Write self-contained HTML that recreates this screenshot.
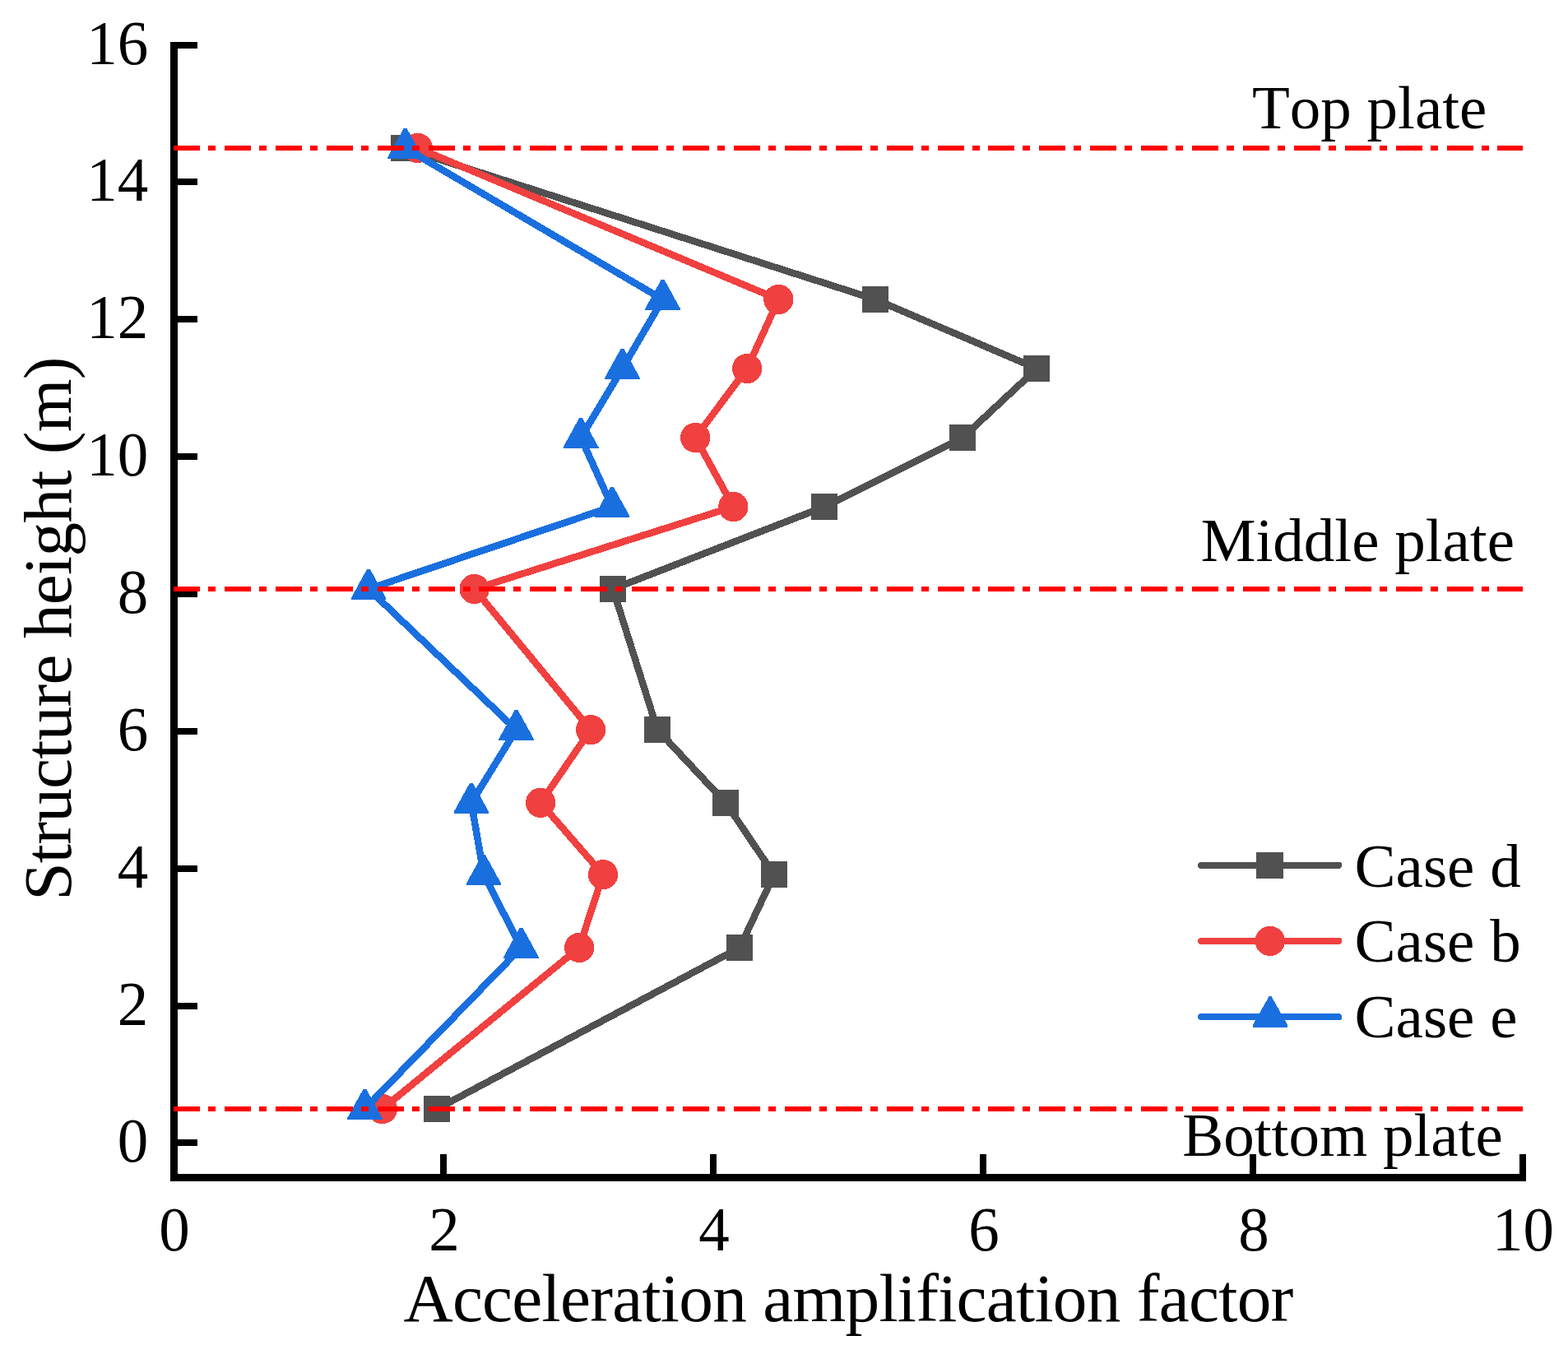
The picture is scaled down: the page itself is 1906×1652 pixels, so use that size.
<!DOCTYPE html>
<html lang="en"><head><meta charset="utf-8"><title>Acceleration amplification factor vs structure height</title>
<style>html,body{margin:0;padding:0;background:#fff;}body{width:1906px;height:1652px;overflow:hidden;}svg{display:block;}text{font-family:"Liberation Serif",serif;fill:#000;font-kerning:none;}.t{font-size:75px;}.a{font-size:83.33px;letter-spacing:-0.75px;}</style></head><body>
<svg width="1906" height="1652" viewBox="0 0 1906 1652">
<rect width="1906" height="1652" fill="#fff"/>
<g shape-rendering="crispEdges">
<polyline points="531.2,1348 899.1,1152 941,1063.1 882,975.8 799.1,887.1 745.1,716 1002.1,616 1170.2,532 1260.4,448 1064,364 491.1,180" fill="none" stroke="#515151" stroke-width="8.5" stroke-linejoin="round" stroke-linecap="round"/>
<rect x="515" y="1332" width="32" height="32" fill="#515151"/>
<rect x="883" y="1136" width="32" height="32" fill="#515151"/>
<rect x="925" y="1047" width="32" height="32" fill="#515151"/>
<rect x="866" y="960" width="32" height="32" fill="#515151"/>
<rect x="783" y="871" width="32" height="32" fill="#515151"/>
<rect x="729" y="700" width="32" height="32" fill="#515151"/>
<rect x="986" y="600" width="32" height="32" fill="#515151"/>
<rect x="1154" y="516" width="32" height="32" fill="#515151"/>
<rect x="1244" y="432" width="32" height="32" fill="#515151"/>
<rect x="1048" y="348" width="32" height="32" fill="#515151"/>
<rect x="475" y="164" width="32" height="32" fill="#515151"/>
<polyline points="464.8,1348 704.05,1152 733,1063.1 657.1,975.8 718.05,887.1 576.7,716 891.4,616 845.3,532 908.1,448 946.4,364 507.9,180" fill="none" stroke="#F14040" stroke-width="8.5" stroke-linejoin="round" stroke-linecap="round"/>
<circle cx="464.8" cy="1348" r="18.15" fill="#F14040"/>
<circle cx="704.05" cy="1152" r="18.15" fill="#F14040"/>
<circle cx="733" cy="1063.1" r="18.15" fill="#F14040"/>
<circle cx="657.1" cy="975.8" r="18.15" fill="#F14040"/>
<circle cx="718.05" cy="887.1" r="18.15" fill="#F14040"/>
<circle cx="576.7" cy="716" r="18.15" fill="#F14040"/>
<circle cx="891.4" cy="616" r="18.15" fill="#F14040"/>
<circle cx="845.3" cy="532" r="18.15" fill="#F14040"/>
<circle cx="908.1" cy="448" r="18.15" fill="#F14040"/>
<circle cx="946.4" cy="364" r="18.15" fill="#F14040"/>
<circle cx="507.9" cy="180" r="18.15" fill="#F14040"/>
<polyline points="443.4,1348 633.5,1152 588,1063.1 572.95,975.8 627.6,887.1 448,716 744,616 706.1,532 756.5,448 805.6,364 492.6,180" fill="none" stroke="#1A6FDF" stroke-width="8.5" stroke-linejoin="round" stroke-linecap="round"/>
<polygon points="441.55,1323.85 445.25,1323.85 464.8,1359.3 464.8,1360.8 422,1360.8 422,1359.3" fill="#1A6FDF"/>
<polygon points="631.65,1127.85 635.35,1127.85 654.9,1163.3 654.9,1164.8 612.1,1164.8 612.1,1163.3" fill="#1A6FDF"/>
<polygon points="586.15,1038.95 589.85,1038.95 609.4,1074.4 609.4,1075.9 566.6,1075.9 566.6,1074.4" fill="#1A6FDF"/>
<polygon points="571.1,951.65 574.8,951.65 594.35,987.1 594.35,988.6 551.55,988.6 551.55,987.1" fill="#1A6FDF"/>
<polygon points="625.75,862.95 629.45,862.95 649,898.4 649,899.9 606.2,899.9 606.2,898.4" fill="#1A6FDF"/>
<polygon points="446.15,691.85 449.85,691.85 469.4,727.3 469.4,728.8 426.6,728.8 426.6,727.3" fill="#1A6FDF"/>
<polygon points="742.15,591.85 745.85,591.85 765.4,627.3 765.4,628.8 722.6,628.8 722.6,627.3" fill="#1A6FDF"/>
<polygon points="704.25,507.85 707.95,507.85 727.5,543.3 727.5,544.8 684.7,544.8 684.7,543.3" fill="#1A6FDF"/>
<polygon points="754.65,423.85 758.35,423.85 777.9,459.3 777.9,460.8 735.1,460.8 735.1,459.3" fill="#1A6FDF"/>
<polygon points="803.75,339.85 807.45,339.85 827,375.3 827,376.8 784.2,376.8 784.2,375.3" fill="#1A6FDF"/>
<polygon points="490.75,155.85 494.45,155.85 514,191.3 514,192.8 471.2,192.8 471.2,191.3" fill="#1A6FDF"/>
</g>
<g fill="#000" shape-rendering="crispEdges">
<rect x="207" y="51" width="9" height="1385"/>
<rect x="207" y="1427" width="1648" height="9"/>
<rect x="212" y="1385" width="28" height="8"/>
<rect x="212" y="1219" width="28" height="8"/>
<rect x="212" y="1052" width="28" height="8"/>
<rect x="212" y="885" width="28" height="8"/>
<rect x="212" y="718" width="28" height="8"/>
<rect x="212" y="551" width="28" height="8"/>
<rect x="212" y="384" width="28" height="8"/>
<rect x="212" y="217" width="28" height="8"/>
<rect x="212" y="51" width="28" height="8"/>
<rect x="535" y="1403" width="8" height="28"/>
<rect x="863" y="1403" width="8" height="28"/>
<rect x="1191" y="1403" width="8" height="28"/>
<rect x="1519" y="1403" width="8" height="28"/>
<rect x="1847" y="1403" width="8" height="28"/>
</g>
<g class="t" text-anchor="end">
<text transform="translate(180.2 1411.5) scale(1 1.02)">0</text>
<text transform="translate(180.2 1245.5) scale(1 1.02)">2</text>
<text transform="translate(180.2 1078.5) scale(1 1.02)">4</text>
<text transform="translate(180.2 911.5) scale(1 1.02)">6</text>
<text transform="translate(180.2 744.5) scale(1 1.02)">8</text>
<text transform="translate(180.2 577.5) scale(1 1.02)">10</text>
<text transform="translate(180.2 410.5) scale(1 1.02)">12</text>
<text transform="translate(180.2 243.5) scale(1 1.02)">14</text>
<text transform="translate(180.2 77.5) scale(1 1.02)">16</text>
</g>
<g class="t" text-anchor="middle">
<text transform="translate(212 1519.8) scale(1 1.02)">0</text>
<text transform="translate(540 1519.8) scale(1 1.02)">2</text>
<text transform="translate(868 1519.8) scale(1 1.02)">4</text>
<text transform="translate(1196 1519.8) scale(1 1.02)">6</text>
<text transform="translate(1524 1519.8) scale(1 1.02)">8</text>
<text transform="translate(1851.5 1519.8) scale(1 1.02)">10</text>
</g>
<text class="a" transform="translate(1031 1606.1) scale(1 1)" text-anchor="middle">Acceleration amplification factor</text>
<text class="a" transform="translate(85.5 764.5) rotate(-90) scale(1 1)" text-anchor="middle">Structure height (m)</text>
<text class="t" transform="translate(1522 156.1) scale(1 1)">Top plate</text>
<text class="t" transform="translate(1459.8 682.2) scale(1 1)">Middle plate</text>
<text class="t" transform="translate(1437.2 1405.4) scale(1 1)">Bottom plate</text>
<g shape-rendering="crispEdges">
<line x1="1460" y1="1051.9" x2="1627.2" y2="1051.9" stroke="#515151" stroke-width="8" stroke-linecap="round"/>
<rect x="1527.35" y="1035.65" width="32.5" height="32.5" fill="#515151"/>
<text class="t" transform="translate(1646.6 1077.9) scale(1 1)">Case d</text>
<line x1="1460" y1="1143.9" x2="1627.2" y2="1143.9" stroke="#F14040" stroke-width="8" stroke-linecap="round"/>
<circle cx="1543.7" cy="1143.9" r="18.15" fill="#F14040"/>
<text class="t" transform="translate(1646.6 1169.3) scale(1 1)">Case b</text>
<line x1="1460" y1="1236.1" x2="1627.2" y2="1236.1" stroke="#1A6FDF" stroke-width="8" stroke-linecap="round"/>
<polygon points="1543,1210.6 1545,1210.6 1565,1245.5 1565,1248.9 1523,1248.9 1523,1245.5" fill="#1A6FDF"/>
<text class="t" transform="translate(1646.6 1260.9) scale(1 1)">Case e</text>
</g>
<g shape-rendering="crispEdges" stroke="#FF0000" stroke-width="6" stroke-dasharray="32 10 9 10.9" fill="none">
<line x1="211" y1="180" x2="1851.3" y2="180"/>
<line x1="211" y1="716" x2="1851.3" y2="716"/>
<line x1="211" y1="1348" x2="1851.3" y2="1348"/>
</g>
</svg></body></html>
